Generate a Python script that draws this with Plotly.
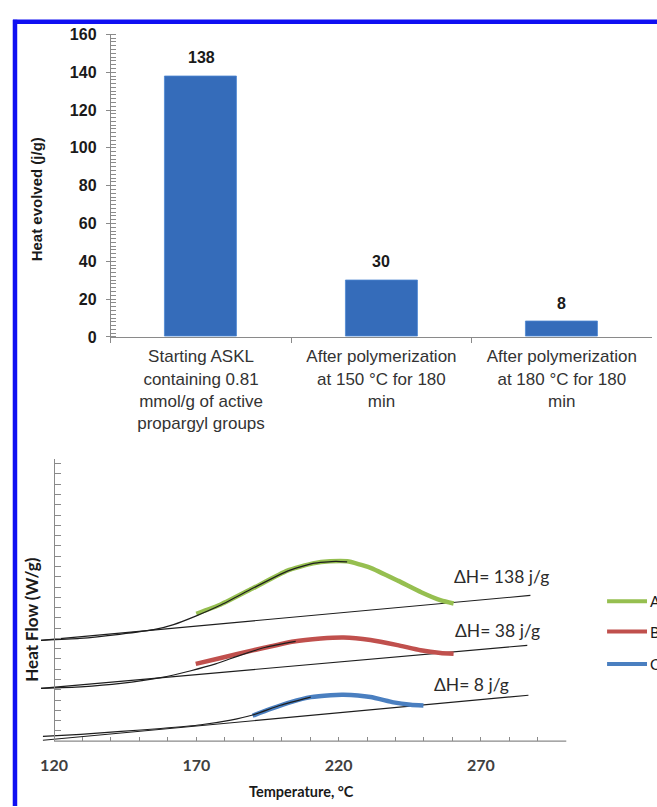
import plotly.graph_objects as go

# ---------------- data ----------------
# Bar chart: heat evolved in the DSC exotherm
categories = [
    "Starting ASKL<br>containing 0.81<br>mmol/g of active<br>propargyl groups",
    "After polymerization<br>at 150 °C for 180<br>min",
    "After polymerization<br>at 180 °C for 180<br>min",
]
heat_evolved = [138, 30, 8]

# DSC traces (temperature in °C, heat flow in arbitrary offset units)
# A: starting ASKL
a_base_T = [115.4, 287.4]
a_base_H = [9.81, 14.19]
a_meas_T = [115.4, 129, 143, 155, 162, 170, 178.6, 190, 202, 211, 219, 223]
a_meas_H = [9.81, 10.0, 10.4, 10.85, 11.35, 12.2, 13.25, 14.9, 16.55, 17.3, 17.5, 17.45]
a_fit_T = [170, 178.6, 190, 202, 211, 217, 223, 231, 241, 249, 256, 260.4]
a_fit_H = [12.4, 13.3, 14.9, 16.6, 17.3, 17.5, 17.5, 16.9, 15.6, 14.5, 13.7, 13.4]

# B: after 150 °C / 180 min
b_base_T = [115.4, 286.3]
b_base_H = [5.14, 9.33]
b_meas_T = [115.4, 129.4, 143.5, 157.5, 168.1, 176.8, 185.6, 194.4, 204.9]
b_meas_H = [5.14, 5.29, 5.62, 6.19, 6.86, 7.52, 8.38, 9.14, 9.71]
b_fit_T = [169.8, 178.6, 190.2, 204.2, 213.7, 221.8, 231.2, 240.7, 248.8, 255.8, 260.4]
b_fit_H = [7.52, 8.10, 8.86, 9.71, 10.0, 10.10, 9.85, 9.35, 8.85, 8.58, 8.5]

# C: after 180 °C / 180 min
c_base_T = [116.1, 286.7]
c_base_H = [0.095, 4.48]
c_meas_T = [116.1, 129.4, 143.5, 157.5, 171.6, 182.1, 189.8, 199.6, 210.2]
c_meas_H = [0.48, 0.67, 0.95, 1.24, 1.6, 2.05, 2.55, 3.5, 4.29]
c_fit_T = [189.8, 196.1, 203.2, 210.2, 217.2, 221.8, 231.2, 239.3, 245.3, 249.8]
c_fit_H = [2.48, 3.14, 3.81, 4.29, 4.48, 4.52, 4.3, 3.78, 3.55, 3.47]

dh_labels = ["ΔH= 138 j/g", "ΔH= 38 j/g", "ΔH= 8 j/g"]
dh_pos_T = [277.2, 275.8, 266.7]
dh_pos_H = [16.0, 10.76, 5.52]

series_names = ["A", "B", "C"]
series_colors = ["#96bf50", "#c0504d", "#4a7fc0"]

# ---------------- layout helpers ----------------
W, H = 657, 807


def pxx(x):
    return x / W


def pxy(y):
    return 1 - y / H


ARIAL = "Liberation Sans, Arial, sans-serif"
CALIBRI = "Lato, Carlito, Calibri, sans-serif"
AXIS_GREY = "#8a8a8a"

fig = go.Figure()

# ---- bar chart ----
fig.add_trace(go.Bar(
    x=categories, y=heat_evolved, width=0.40,
    marker=dict(color="#356cba", line=dict(color="#4d86d2", width=0.8)),
    xaxis="x", yaxis="y", showlegend=False, hoverinfo="skip",
))

# ---- DSC traces ----
base_sets = [(a_base_T, a_base_H), (b_base_T, b_base_H), (c_base_T, c_base_H)]
meas_sets = [(a_meas_T, a_meas_H), (b_meas_T, b_meas_H), (c_meas_T, c_meas_H)]
fit_sets = [(a_fit_T, a_fit_H), (b_fit_T, b_fit_H), (c_fit_T, c_fit_H)]

for (bt, bh) in base_sets:
    fig.add_trace(go.Scatter(x=bt, y=bh, mode="lines", xaxis="x2", yaxis="y2",
                             line=dict(color="#1e1e1e", width=1.1),
                             showlegend=False, hoverinfo="skip"))
for (ft, fh), col, name in zip(fit_sets, series_colors, series_names):
    fig.add_trace(go.Scatter(x=ft, y=fh, mode="lines", xaxis="x2", yaxis="y2",
                             line=dict(color=col, width=4.5, shape="spline", smoothing=0.5),
                             name=name, showlegend=False, hoverinfo="skip"))
for (mt, mh) in meas_sets:
    fig.add_trace(go.Scatter(x=mt, y=mh, mode="lines", xaxis="x2", yaxis="y2",
                             line=dict(color="#1e1e1e", width=1.2, shape="spline", smoothing=0.5),
                             showlegend=False, hoverinfo="skip"))

annotations = []
# value labels over the bars
for cat, val in zip(categories, heat_evolved):
    annotations.append(dict(
        x=cat, y=val, xref="x", yref="y", text=str(val), showarrow=False,
        xanchor="center", yanchor="bottom", yshift=8,
        font=dict(family=ARIAL, size=16, color="#1a1a1a", weight="bold"),
    ))

annotations.append(dict(
    x=pxx(35.5), y=pxy(195), xref="paper", yref="paper",
    xanchor="center", yanchor="middle",
    text="Heat evolved (j/g)", textangle=-90, showarrow=False,
    font=dict(family=ARIAL, size=15, color="#1a1a1a", weight="bold"),
))

# ΔH labels
for txt, t, h in zip(dh_labels, dh_pos_T, dh_pos_H):
    annotations.append(dict(
        x=t, y=h, xref="x2", yref="y2", text=txt, showarrow=False,
        xanchor="center", yanchor="middle",
        font=dict(family=CALIBRI, size=17.5, color="#2b2b2b"),
    ))

annotations.append(dict(
    x=pxx(31), y=pxy(625), xref="paper", yref="paper",
    xanchor="center", yanchor="middle",
    text="Heat Flow (W/g)", textangle=-90, showarrow=False,
    font=dict(family=CALIBRI, size=17, color="#1a1a1a", weight="bold"),
))
annotations.append(dict(
    x=pxx(301), y=pxy(800), xref="paper", yref="paper",
    xanchor="center", yanchor="middle",
    text="Temperature, °C", showarrow=False,
    font=dict(family=CALIBRI, size=14.5, color="#1a1a1a", weight="bold"),
))

shapes = []
# legend swatches and names
legend_y = [606, 637, 670]
for name, col, ly in zip(series_names, series_colors, legend_y):
    shapes.append(dict(type="line", xref="paper", yref="paper",
                       x0=pxx(607), x1=pxx(647), y0=pxy(ly), y1=pxy(ly),
                       line=dict(color=col, width=4)))
    annotations.append(dict(
        x=pxx(648), y=pxy(ly), xref="paper", yref="paper", text=name,
        showarrow=False, xanchor="left", yanchor="middle",
        font=dict(family=CALIBRI, size=15, color="#1a1a1a"),
    ))

# DSC temperature axis line (from 120 to 300 °C)
shapes.append(dict(type="line", xref="x2", yref="paper",
                   x0=120, x1=300, y0=pxy(749), y1=pxy(749),
                   line=dict(color=AXIS_GREY, width=1.3)))

# blue frame
shapes.append(dict(type="line", xref="paper", yref="paper",
                   x0=pxx(14), x1=pxx(14), y0=-0.01, y1=pxy(12),
                   line=dict(color="#1010f2", width=4.5)))
shapes.append(dict(type="line", xref="paper", yref="paper",
                   x0=pxx(12), x1=1.01, y0=pxy(14), y1=pxy(14),
                   line=dict(color="#1010f2", width=4.5)))

fig.update_layout(
    width=W, height=H,
    margin=dict(l=0, r=0, t=0, b=0),
    paper_bgcolor="white", plot_bgcolor="white",
    showlegend=False,
    bargap=0,
    xaxis=dict(
        domain=[pxx(110), pxx(652)], anchor="y",
        type="category", tickson="boundaries",
        showline=True, linecolor=AXIS_GREY, linewidth=1.2,
        ticks="outside", ticklen=5, tickcolor=AXIS_GREY,
        showgrid=False, zeroline=False,
        tickfont=dict(family=ARIAL, size=17, color="#333333"),
        ticklabelstandoff=4,
    ),
    yaxis=dict(
        domain=[pxy(336), pxy(27)], anchor="x",
        range=[0, 160], tick0=0, dtick=20,
        showline=True, linecolor=AXIS_GREY, linewidth=1.2,
        ticks="outside", ticklen=4, tickcolor=AXIS_GREY,
        minor=dict(dtick=2, ticks="inside", ticklen=5, tickcolor=AXIS_GREY),
        showgrid=False, zeroline=False,
        tickfont=dict(family=ARIAL, size=16, color="#1a1a1a", weight="bold"),
        ticklabelstandoff=6,
    ),
    yaxis3=dict(
        overlaying="y", anchor="x", range=[0, 160], tick0=0, dtick=20,
        ticks="inside", ticklen=5, tickcolor=AXIS_GREY,
        showticklabels=False, showline=False, showgrid=False, zeroline=False,
    ),
    xaxis2=dict(
        domain=[pxx(40), pxx(567)], anchor="y2",
        range=[115.4, 300.3], tick0=120, dtick=50,
        showline=False, showgrid=False, zeroline=False,
        ticks="inside", ticklen=4, tickcolor=AXIS_GREY,
        minor=dict(dtick=10, tick0=120, ticks="inside", ticklen=4, tickcolor=AXIS_GREY),
        tickfont=dict(family=CALIBRI, size=16, color="#404040", weight="bold"),
        ticklabelstandoff=13,
    ),
    yaxis2=dict(
        domain=[pxy(749), pxy(461)], anchor="free", position=pxx(53.1),
        range=[0, 27.43], tick0=0, dtick=1,
        showline=True, linecolor=AXIS_GREY, linewidth=1.3,
        ticks="inside", ticklen=6, tickcolor=AXIS_GREY,
        showticklabels=False, showgrid=False, zeroline=False,
    ),
    annotations=annotations,
    shapes=shapes,
)

fig.write_html("out.html")
